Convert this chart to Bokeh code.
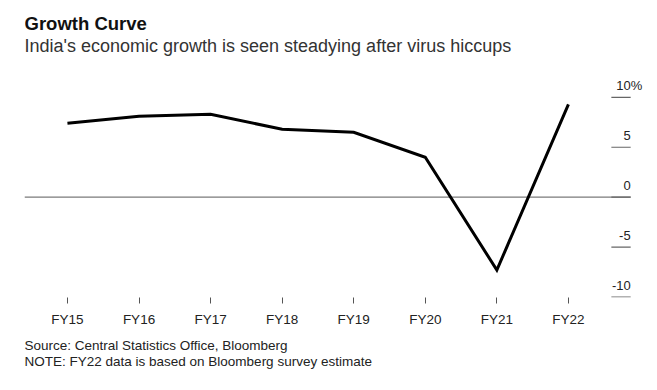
from bokeh.plotting import figure
from bokeh.models import Range1d, FixedTicker, Title, ColumnDataSource
from bokeh.embed import file_html
from bokeh.resources import INLINE
from bokeh.core.properties import value

categories = ["FY15", "FY16", "FY17", "FY18", "FY19", "FY20", "FY21", "FY22"]
growth = [7.4, 8.1, 8.3, 6.8, 6.5, 4.0, -7.3, 9.3]
y_ticks = [10, 5, 0, -5, -10]
y_tick_labels = ["10", "5", "0", "-5", "-10"]

title_text = "Growth Curve"
subtitle_text = "India's economic growth is seen steadying after virus hiccups"
footer_text = "Source: Central Statistics Office, Bloomberg\nNOTE: FY22 data is based on Bloomberg survey estimate"

FONT = "Liberation Sans"
xs = list(range(len(categories)))
last = len(categories) - 1
x_left = -0.6
tick_start = last + 0.60
tick_end = last + 0.87
y_low = -10.05
y_top = 19.7

p = figure(width=648, height=374, output_backend="svg", toolbar_location=None,
           x_range=Range1d(x_left, last + 1.105), y_range=Range1d(y_low, y_top),
           y_axis_location=None, min_border_left=24, min_border_right=1,
           min_border_top=0, min_border_bottom=0)
p.outline_line_color = None
p.grid.visible = False

# title & subtitle (anchored to the top of the frame, offsets in pixels)
p.text(x=[x_left], y=[y_top], text=[title_text], text_align="left", text_baseline="alphabetic",
       y_offset=23, text_font=value(FONT), text_font_size="18.5px", text_font_style="bold",
       text_color="#111111")
p.text(x=[x_left], y=[y_top], text=[subtitle_text], text_align="left", text_baseline="alphabetic",
       y_offset=45.5, text_font=value(FONT), text_font_size="18px", text_color="#333333")

# zero line
p.segment(x0=[x_left], x1=[tick_end], y0=[0], y1=[0], line_color="#7a7a7a", line_width=1.3)

# right tick marks and labels
tsrc = ColumnDataSource(dict(y=y_ticks, t=y_tick_labels,
                             x0=[tick_start] * len(y_ticks), x1=[tick_end] * len(y_ticks)))
p.segment(x0="x0", x1="x1", y0="y", y1="y", source=tsrc, line_color="#666666", line_width=1.2)
p.text(x="x1", y="y", text="t", source=tsrc, text_align="right", text_baseline="alphabetic",
       y_offset=-12, text_font=value(FONT), text_font_size="13px", text_color="#222222")
p.text(x=[tick_end], y=[y_ticks[0]], text=["%"], text_align="left", text_baseline="alphabetic",
       y_offset=-12, text_font=value(FONT), text_font_size="13px", text_color="#222222")

# data line
p.line(xs, growth, line_color="black", line_width=3, line_join="miter")

ax = p.xaxis[0]
ax.ticker = FixedTicker(ticks=xs)
ax.major_label_overrides = {i: c for i, c in enumerate(categories)}
ax.axis_line_color = None
ax.major_tick_in = 0
ax.major_tick_out = 6
ax.major_tick_line_color = "#555555"
ax.minor_tick_line_color = None
ax.major_label_standoff = 8
ax.major_label_text_font = FONT
ax.major_label_text_font_size = "13.5px"
ax.major_label_text_color = "#222222"

# footer below
p.add_layout(Title(text=footer_text, text_font=FONT, text_font_size="13.5px",
                   text_font_style="normal", text_color="#222222", text_line_height=1.05,
                   align="left", standoff=12), "below")

open("out.html", "w").write(file_html(p, INLINE))
